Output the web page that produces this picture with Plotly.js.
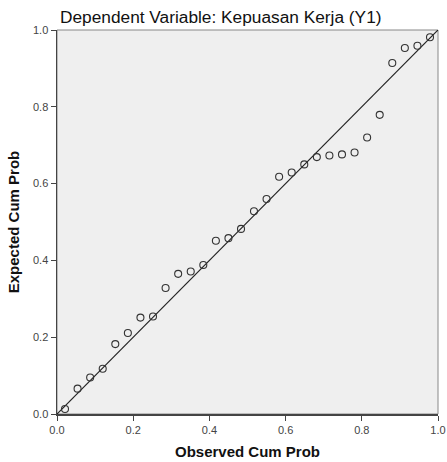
<!DOCTYPE html>
<html>
<head>
<meta charset="utf-8">
<script src="https://cdn.plot.ly/plotly-3.0.1.min.js"></script>
<style>html,body{margin:0;padding:0;background:#fff;overflow:hidden;}#chart{width:447px;height:462px;}</style>
</head>
<body>
<div id="chart"></div>
<script>
const observedCumProb = [0.021, 0.054, 0.087, 0.120, 0.153, 0.186, 0.219, 0.252, 0.285, 0.318,
  0.351, 0.384, 0.417, 0.450, 0.483, 0.517, 0.550, 0.583, 0.616, 0.649,
  0.682, 0.715, 0.748, 0.781, 0.814, 0.847, 0.880, 0.913, 0.946, 0.979];
const expectedCumProb = [0.013, 0.066, 0.095, 0.118, 0.182, 0.211, 0.251, 0.254, 0.328, 0.365,
  0.371, 0.388, 0.451, 0.458, 0.482, 0.528, 0.560, 0.618, 0.629, 0.650,
  0.669, 0.673, 0.676, 0.681, 0.720, 0.779, 0.914, 0.953, 0.959, 0.981];
const refLineX = [0, 1];
const refLineY = [0, 1];
const tickValues = [0, 0.2, 0.4, 0.6, 0.8, 1.0];
const tickLabels = ["0.0", "0.2", "0.4", "0.6", "0.8", "1.0"];

const fontFam = "Liberation Sans, Arial, sans-serif";

const traces = [
  {
    x: refLineX, y: refLineY, mode: "lines", type: "scatter",
    line: {color: "#222", width: 1.2}, hoverinfo: "skip", showlegend: false, cliponaxis: false
  },
  {
    x: observedCumProb, y: expectedCumProb, mode: "markers", type: "scatter",
    marker: {symbol: "circle-open", size: 7, color: "#333", line: {width: 1.1, color: "#333"}},
    showlegend: false
  }
];

const axisCommon = {
  range: [0, 1], tickvals: tickValues, ticktext: tickLabels,
  ticks: "outside", ticklen: 5, tickwidth: 1, tickcolor: "#444",
  showline: true, linecolor: "#444", linewidth: 1.5,
  showgrid: false, zeroline: false,
  ticklabeloverflow: "allow",
  tickfont: {family: fontFam, size: 11, color: "#444"}
};

const layout = {
  width: 447, height: 462,
  margin: {l: 57, r: 9, t: 30, b: 48},
  paper_bgcolor: "#ffffff",
  plot_bgcolor: "#efefef",
  title: {
    text: "Dependent Variable: Kepuasan Kerja (Y1)",
    font: {family: fontFam, size: 17.3, color: "#111"},
    xref: "container", x: 60/447, xanchor: "left",
    yref: "container", y: 1 - 16.5/462, yanchor: "middle"
  },
  xaxis: Object.assign({}, axisCommon, {
    title: {text: "<b>Observed Cum Prob</b>", font: {family: fontFam, size: 15, color: "#111"}, standoff: 12}
  }),
  yaxis: Object.assign({}, axisCommon, {
    title: {text: "<b>Expected Cum Prob</b>", font: {family: fontFam, size: 15, color: "#111"}, standoff: 10}
  }),
  shapes: [
    {type: "rect", xref: "paper", yref: "paper", x0: 0, x1: 1, y0: 0, y1: 1,
     line: {color: "#888", width: 1}, fillcolor: "rgba(0,0,0,0)", layer: "below"}
  ]
};

Plotly.newPlot("chart", traces, layout, {displayModeBar: false, staticPlot: true});
</script>
</body>
</html>
